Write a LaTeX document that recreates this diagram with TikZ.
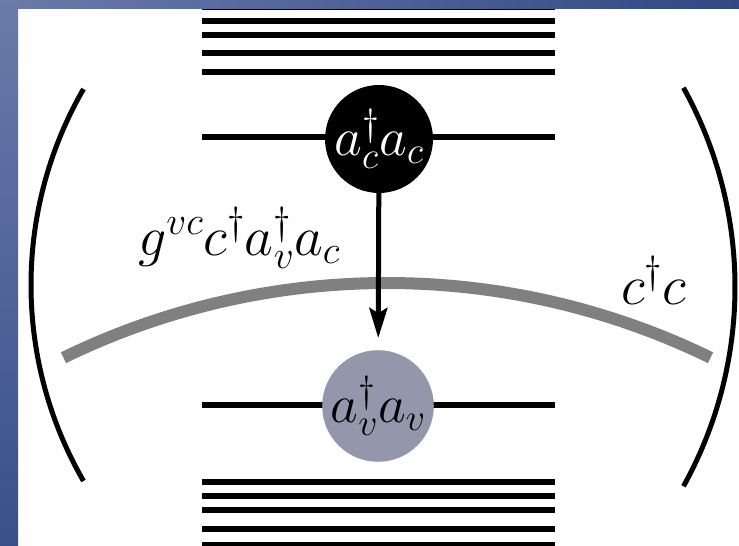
\documentclass[tikz,border=0pt]{standalone}
\usepackage{fix-cm}
\usetikzlibrary{arrows.meta,positioning}

\definecolor{frametop}{RGB}{106,122,170}
\definecolor{frameright}{RGB}{48,73,132}
\definecolor{framebottom}{RGB}{58,80,138}
\definecolor{bandgrey}{RGB}{128,128,128}
\definecolor{valefill}{RGB}{148,150,172}

\begin{document}
\begin{tikzpicture}[
    x=1pt, y=-1pt,
    font=\fontsize{54}{64}\selectfont,
    energyline/.style={line width=6pt},
    paren/.style={line width=5pt},
    opnode/.style={circle, minimum size=108pt, inner sep=0pt},
    oplabel/.style={anchor=base west, inner sep=0pt, font=\fontsize{56}{66}\selectfont},
    myedge/.style={-{Stealth[length=30pt, width=18pt, inset=5pt]}, line width=5pt, shorten >=12pt}
]
\useasboundingbox (0,0) rectangle (739,546);
\fill[white] (0,0) rectangle (739,546);

% conduction and valence levels
\foreach \y in {7,21,35,53,72} \draw[energyline] (202,\y) -- (555,\y);
\foreach \y in {482,496,510,529,545} \draw[energyline] (202,\y) -- (555,\y);
\draw[energyline] (202,137) -- (555,137);
\draw[energyline] (202,405) -- (555,405);

% cavity mirrors and mode
\coordinate (lc) at (423,285);
\coordinate (rc) at (324,287);
\coordinate (mc) at (387,1021);
\draw[paren] (lc) ++(150:392) arc[start angle=150, end angle=210, radius=392];
\draw[paren] (rc) ++(-29:411) arc[start angle=-29, end angle=29, radius=411];
\draw[bandgrey, line width=12pt] (mc) ++(-116:738) arc[start angle=-116, end angle=-64, radius=738];

\node[opnode, fill=black, text=white] (cc) at (379,139) {$a_c^\dagger a_c$};
\node[opnode, fill=valefill] (vv) at (378,406) {$a_v^\dagger a_v$};

\draw[myedge] (cc) -- (vv);

\node[oplabel] (coupling) at (138,255) {$g^{vc}c^\dagger a_v^\dagger a_c$};
\node[oplabel] (photon) at (621,304) {$c^\dagger c$};

% frame
\shade[left color=frametop, right color=frameright] (0,0) rectangle (739,8);
\shade[top color=frametop, bottom color=framebottom] (0,0) rectangle (18,546);
\end{tikzpicture}
\end{document}
